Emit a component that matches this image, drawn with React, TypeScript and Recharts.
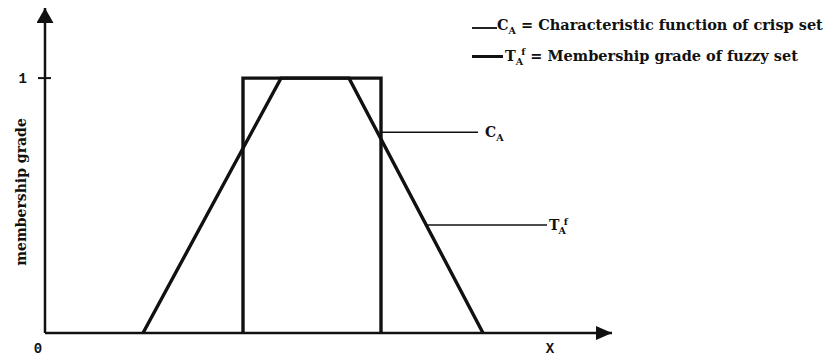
import React from 'react';
import { LineChart, Line, XAxis, YAxis, ReferenceLine, Legend } from 'recharts';

// Characteristic function of crisp set (rectangle)
const crispX = [9.9, 9.9, 16.8, 16.8];
const crispY = [0, 1, 1, 0];
// Membership grade of fuzzy set (trapezoid)
const fuzzyX = [4.9, 11.8, 15.2, 21.9];
const fuzzyY = [0, 1, 1, 0];

const xTicks = [0, 25.25];
const xTickLabels = ['0', 'X'];
const yTicks = [1];
const yTickLabels = ['1'];

// annotation pointer lines: [x1, x2, y]
const caPointer = [16.8, 21.65, 0.788];
const tfPointer = [19.06, 25.1, 0.424];
const yTickMark = [-0.35, 0.3];

const crispData = crispX.map((x, i) => ({ x, y: crispY[i] }));
const fuzzyData = fuzzyX.map((x, i) => ({ x, y: fuzzyY[i] }));

const SERIF = '"DejaVu Serif", serif';
const TICKFONT = '"Liberation Mono", monospace';

const XTick = (props: any) => {
  const { x, y, payload } = props;
  const idx = xTicks.indexOf(payload.value);
  const label = xTickLabels[idx];
  const dx = payload.value === 0 ? -7 : 0;
  return (
    <text x={x + dx} y={y + 20} textAnchor="middle" fontFamily={TICKFONT} fontWeight="bold" fontSize={14} fill="#111">
      {label}
    </text>
  );
};

const YTick = (props: any) => {
  const { x, y, payload } = props;
  const idx = yTicks.indexOf(payload.value);
  return (
    <text x={x - 18} y={y + 5} textAnchor="end" fontFamily={TICKFONT} fontWeight="bold" fontSize={14} fill="#111">
      {yTickLabels[idx]}
    </text>
  );
};

const YLabel = () => {
  const cx = 21;
  const cy = 192;
  return (
    <text x={cx} y={cy} transform={`rotate(-90 ${cx} ${cy})`} textAnchor="middle" dominantBaseline="central"
      fontFamily={SERIF} fontWeight="bold" fontSize={14} fill="#111">
      membership grade
    </text>
  );
};

const CALabel = (props: any) => {
  const { viewBox } = props;
  const x = viewBox.x + viewBox.width + 7;
  const y = viewBox.y + 5;
  return (
    <text x={x} y={y} fontFamily={SERIF} fontWeight="bold" fontSize={14} fill="#111">
      <tspan>C</tspan>
      <tspan dy={4} fontSize={9.5}>A</tspan>
    </text>
  );
};

const TFLabel = (props: any) => {
  const { viewBox } = props;
  const x = viewBox.x + viewBox.width + 2;
  const y = viewBox.y + 5;
  return (
    <text x={x} y={y} fontFamily={SERIF} fontWeight="bold" fontSize={14} fill="#111">
      <tspan>T</tspan>
      <tspan dy={4} dx={-1} fontSize={9.5}>A</tspan>
      <tspan dy={-9} dx={-2} fontSize={9.5}>f</tspan>
    </text>
  );
};

const LegendContent = () => (
  <div style={{ fontFamily: SERIF, fontWeight: 'bold', fontSize: 14.5, color: '#111', lineHeight: '17px', whiteSpace: 'nowrap' }}>
    <div style={{ display: 'flex', alignItems: 'center', height: 17 }}>
      <span style={{ display: 'inline-block', width: 25, height: 2, background: '#222' }} />
      <span>C<sub style={{ fontSize: 9.5 }}>A</sub> = Characteristic function of crisp set</span>
    </div>
    <div style={{ display: 'flex', alignItems: 'center', height: 17, marginTop: 12 }}>
      <span style={{ display: 'inline-block', width: 31, height: 3, background: '#111', marginRight: 2 }} />
      <span>T<sub style={{ fontSize: 9.5 }}>A</sub><sup style={{ fontSize: 9.5, marginLeft: -2 }}>f</sup> = Membership grade of fuzzy set</span>
    </div>
  </div>
);

export default function App() {
  return (
    <div style={{ position: 'absolute', left: 0, top: 0, width: 829, height: 361, background: '#fff' }}>
      <LineChart width={829} height={361} margin={{ top: 8, right: 217, bottom: 0, left: 0 }}>
        <defs>
          <marker id="arrowY" viewBox="0 0 15 17" refX={15} refY={8.5} markerWidth={15} markerHeight={17}
            markerUnits="userSpaceOnUse" orient="auto-start-reverse">
            <path d="M0,0 L15,8.5 L0,17 z" fill="#111" />
          </marker>
          <marker id="arrowX" viewBox="0 0 16 14" refX={16} refY={7} markerWidth={16} markerHeight={14}
            markerUnits="userSpaceOnUse" orient="auto">
            <path d="M0,0 L16,7 L0,14 z" fill="#111" />
          </marker>
        </defs>
        <XAxis type="number" dataKey="x" domain={[0, 28.35]} ticks={xTicks} tick={<XTick />} tickLine={false}
          tickSize={0} tickMargin={0} height={28} allowDataOverflow
          axisLine={{ stroke: '#111', strokeWidth: 2.5, markerEnd: 'url(#arrowX)' }} />
        <YAxis type="number" dataKey="y" domain={[0, 1.275]} ticks={yTicks} tick={<YTick />} tickLine={false}
          tickSize={0} tickMargin={0} width={45} allowDataOverflow
          axisLine={{ stroke: '#111', strokeWidth: 2.5, markerStart: 'url(#arrowY)' }}
          label={<YLabel />} />
        <ReferenceLine segment={[{ x: yTickMark[0], y: yTicks[0] }, { x: yTickMark[1], y: yTicks[0] }]}
          stroke="#111" strokeWidth={2} ifOverflow="visible" />
        <ReferenceLine segment={[{ x: caPointer[0], y: caPointer[2] }, { x: caPointer[1], y: caPointer[2] }]}
          stroke="#111" strokeWidth={1.5} ifOverflow="visible" label={<CALabel />} />
        <ReferenceLine segment={[{ x: tfPointer[0], y: tfPointer[2] }, { x: tfPointer[1], y: tfPointer[2] }]}
          stroke="#111" strokeWidth={1.5} ifOverflow="visible" label={<TFLabel />} />
        <Line data={crispData} dataKey="y" type="linear" stroke="#111" strokeWidth={3.4} dot={false}
          isAnimationActive={false} />
        <Line data={fuzzyData} dataKey="y" type="linear" stroke="#111" strokeWidth={3.4} dot={false}
          isAnimationActive={false} />
        <Legend verticalAlign="middle" align="center" layout="horizontal" content={<LegendContent />}
          wrapperStyle={{ position: 'absolute', left: 472, top: 19, width: 357, height: 50 }} />
      </LineChart>
    </div>
  );
}
